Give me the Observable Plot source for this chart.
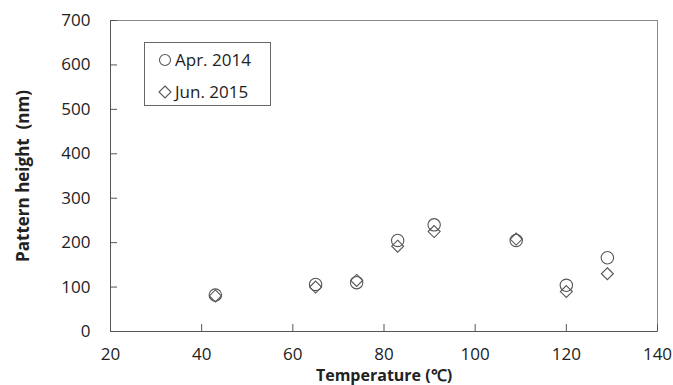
<!DOCTYPE html>
<html>
<head>
<meta charset="utf-8">
<script src="https://cdn.jsdelivr.net/npm/d3@7"></script>
<script src="https://cdn.jsdelivr.net/npm/@observablehq/plot@0.6"></script>
<style>
  body { margin: 0; background: #fff; }
  #wrap { position: relative; width: 673px; height: 385px; font-family: "Open Sans", sans-serif; }
  #legend { position: absolute; left: 144px; top: 42px; width: 127px; height: 64px; border: 1px solid #666; background: #fff; box-sizing: border-box; }
  .item { position: absolute; left: 13px; display: flex; align-items: center; font-size: 17px; color: #222; line-height: 1; }
  .item svg { margin-right: 3px; }
</style>
</head>
<body>
<div id="wrap"></div>
<script>
const temps = [43, 65, 74, 83, 91, 109, 120, 129];
const apr2014 = [82, 106, 110, 205, 240, 205, 104, 166];
const jun2015 = [80, 100, 115, 192, 225, 208, 90, 130];
const seriesNames = ["Apr. 2014", "Jun. 2015"];
const xTicks = [20, 40, 60, 80, 100, 120, 140];
const yTicks = [0, 100, 200, 300, 400, 500, 600, 700];
const xLabel = "Temperature (\u2103)";
const yLabel = "Pattern height  (nm)";

const rowsA = temps.map((t, i) => ({t, v: apr2014[i]}));
const rowsJ = temps.map((t, i) => ({t, v: jun2015[i]}));

const W = 673, H = 385, mL = 110, mR = 16, mT = 20, mB = 54;
const innerW = W - mL - mR, innerH = H - mT - mB;

const chart = Plot.plot({
  width: W, height: H,
  marginLeft: mL, marginRight: mR, marginTop: mT, marginBottom: mB,
  x: {domain: [20, 140]},
  y: {domain: [0, 700]},
  style: {fontFamily: "Open Sans, sans-serif", fontSize: "17px", color: "#222", background: "#fff"},
  marks: [
    Plot.frame({stroke: "#888"}),
    Plot.ruleY([0], {stroke: "#555"}),
    Plot.ruleX([20], {stroke: "#555"}),
    Plot.tickX(xTicks, {x: d => d, insetTop: innerH - 7, stroke: "#555"}),
    Plot.tickY(yTicks, {y: d => d, insetRight: innerW - 7, stroke: "#555"}),
    Plot.axisX(xTicks, {tickSize: 0, tickPadding: 16, label: null, fill: "#222"}),
    Plot.axisY(yTicks, {tickSize: 0, tickPadding: 20, label: null, fill: "#222"}),
    Plot.text([xLabel], {frameAnchor: "bottom", lineAnchor: "middle", textAnchor: "middle", dy: 44, fontWeight: "bold", fontSize: 16, fill: "#222"}),
    Plot.text([yLabel], {frameAnchor: "left", lineAnchor: "middle", textAnchor: "middle", dx: -87, rotate: -90, fontWeight: "bold", fontSize: 17, fill: "#222"}),
    Plot.dot(rowsJ, {x: "t", y: "v", symbol: "diamond2", r: 5.4, stroke: "#555", strokeWidth: 1.1, fill: "none"}),
    Plot.dot(rowsA, {x: "t", y: "v", symbol: "circle", r: 6.2, stroke: "#555", strokeWidth: 1.1, fill: "none"})
  ]
});

const wrap = document.getElementById("wrap");
wrap.appendChild(chart);

const legend = document.createElement("div");
legend.id = "legend";
const glyphs = [
  '<svg width="14" height="14"><circle cx="7" cy="7" r="5.5" fill="none" stroke="#555" stroke-width="1.1"/></svg>',
  '<svg width="14" height="14"><path d="M7,1L13,7L7,13L1,7Z" fill="none" stroke="#555" stroke-width="1.1"/></svg>'
];
seriesNames.forEach((name, i) => {
  const it = document.createElement("div");
  it.className = "item";
  it.style.top = (i === 0 ? 8 : 40) + "px";
  it.innerHTML = glyphs[i] + "<span>" + name + "</span>";
  legend.appendChild(it);
});
wrap.appendChild(legend);
</script>
</body>
</html>
